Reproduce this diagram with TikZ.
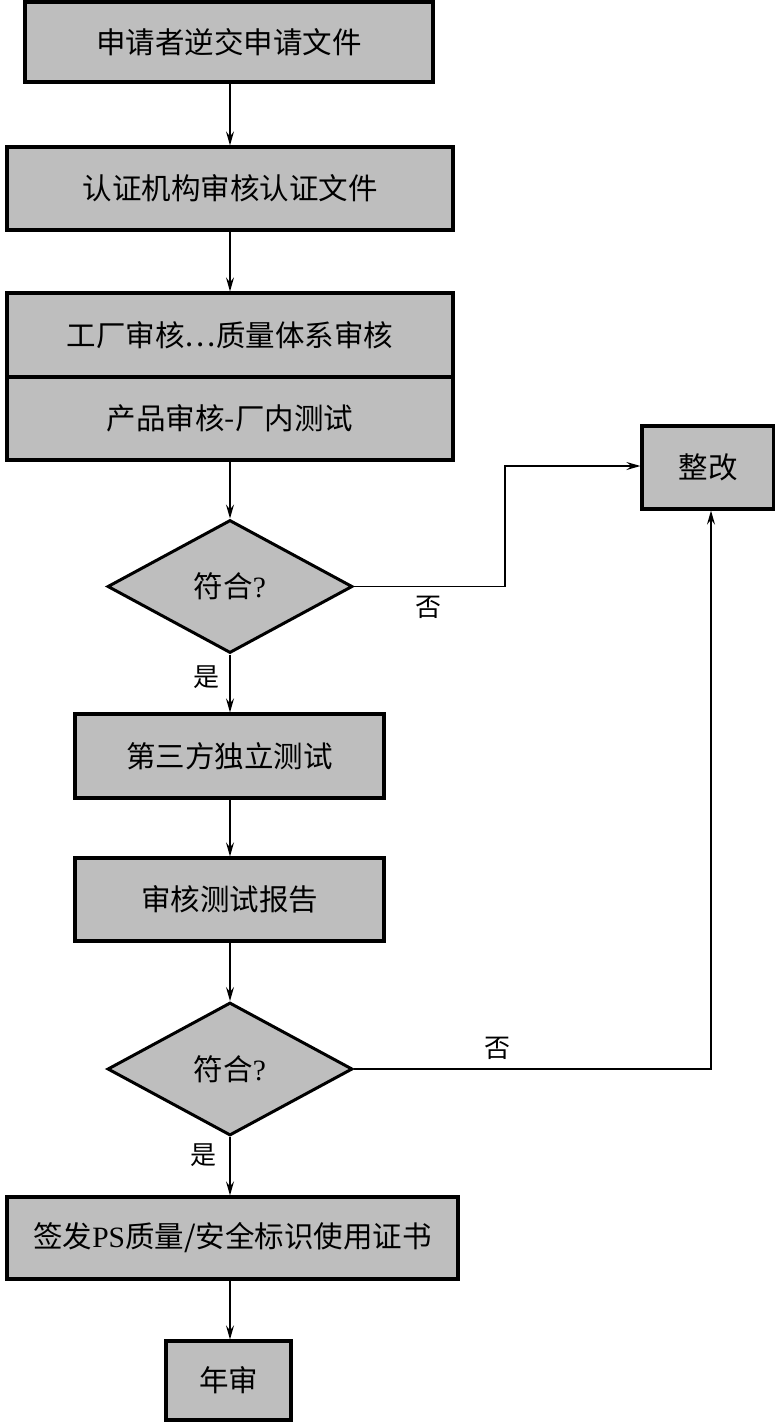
\documentclass[tikz,border=0pt]{standalone}
\usepackage{fontspec}
\setmainfont{Liberation Serif}
\newfontfamily\cjk{Noto Sans CJK SC}
\usetikzlibrary{shapes.geometric,arrows.meta}
\begin{document}
\begin{tikzpicture}[x=1pt,y=-1pt,
  boxnode/.style={draw=black,line width=3.2pt,fill=boxgray,inner sep=0pt,font=\fontsize{29.5}{31}\selectfont\cjk},
  decnode/.style={draw=black,line width=3pt,fill=boxgray,diamond,inner sep=0pt,aspect=1.84,minimum width=245pt,minimum height=133pt,font=\fontsize{29.5}{31}\selectfont\cjk},
  flow/.style={line width=1.6pt,-{Stealth[length=14pt,width=8pt,inset=5pt]}},
  lbl/.style={font=\fontsize{26}{28}\selectfont\cjk,inner sep=0pt}]
\definecolor{boxgray}{RGB}{190,190,190}
\useasboundingbox (0,0) rectangle (775,1425);
\node[boxnode,minimum width=408pt,minimum height=80pt] (b1) at (229,42) {申请者逆交申请文件};
\node[boxnode,minimum width=446pt,minimum height=83pt] (b2) at (230,188.5) {认证机构审核认证文件};
\node[boxnode,minimum width=446pt,minimum height=84pt] (b3a) at (230,335) {工厂审核…质量体系审核};
\node[boxnode,minimum width=446pt,minimum height=83pt] (b3b) at (230,418.5) {产品审核-厂内测试};
\node[decnode] (d1) at (230,586.5) {符合{\rmfamily ?}};
\node[boxnode,minimum width=309pt,minimum height=84pt] (b4) at (229.5,756) {第三方独立测试};
\node[boxnode,minimum width=309pt,minimum height=83pt] (b5) at (229.5,899.5) {审核测试报告};
\node[decnode] (d2) at (230,1069) {符合{\rmfamily ?}};
\node[boxnode,minimum width=451pt,minimum height=82pt] (b6) at (232.5,1238) {签发{\rmfamily PS}质量/安全标识使用证书};
\node[boxnode,minimum width=125pt,minimum height=79pt] (b7) at (228.5,1380.5) {年审};
\node[boxnode,minimum width=132pt,minimum height=83pt] (bz) at (708,467.5) {整改};
\coordinate (k1) at (505,586.5);
\coordinate (k2) at (505,466);
\coordinate (k3) at (711,1069);
\draw[flow] (b1.south -| d1) -- (b2.north -| d1);
\draw[flow] (b2.south -| d1) -- (b3a.north -| d1);
\draw[flow] (b3b.south -| d1) -- (d1.north);
\draw[flow] (d1.south) -- (b4.north -| d1);
\draw[flow] (b4.south -| d1) -- (b5.north -| d1);
\draw[flow] (b5.south -| d1) -- (d2.north);
\draw[flow] (d2.south) -- (b6.north -| d2);
\draw[flow] (b6.south -| d2) -- (b7.north -| d2);
\draw[flow] (d1.east) -- (k1) -- (k2) -- (k2 -| bz.west);
\draw[flow] (d2.east) -- (k3) -- (k3 |- bz.south);
\node[lbl] (n1) at (428,607) {否};
\node[lbl] (n2) at (497,1048) {否};
\node[lbl] (y1) at (206,677) {是};
\node[lbl] (y2) at (203,1155) {是};
\end{tikzpicture}
\end{document}
